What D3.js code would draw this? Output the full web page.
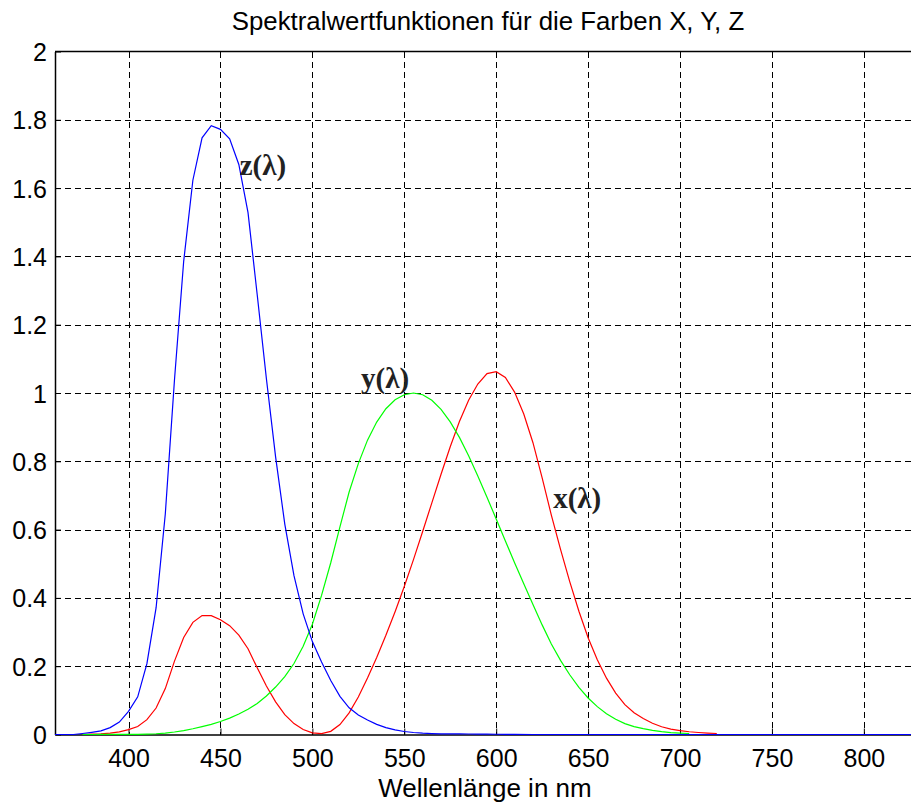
<!DOCTYPE html>
<html>
<head>
<meta charset="utf-8">
<script src="https://cdn.jsdelivr.net/npm/d3@7"></script>
<style>
  body { margin: 0; background: #fff; }
  svg { display: block; }
</style>
</head>
<body>
<div class="chart"></div>
<script>
// data: colour matching functions
const wavelengthsX = [375, 380, 385, 390, 395, 400, 405, 410, 415, 420, 425, 430, 435, 440, 445, 450, 455, 460, 465, 470, 475, 480, 485, 490, 495, 500, 505, 510, 515, 520, 525, 530, 535, 540, 545, 550, 555, 560, 565, 570, 575, 580, 585, 590, 595, 600, 605, 610, 615, 620, 625, 630, 635, 640, 645, 650, 655, 660, 665, 670, 675, 680, 685, 690, 695, 700, 705, 710, 715, 720];
const xValues = [0, 0.0014, 0.0022, 0.0042, 0.0077, 0.0143, 0.0232, 0.0435, 0.0776, 0.1344, 0.2148, 0.2839, 0.3285, 0.3483, 0.3481, 0.3362, 0.3187, 0.2908, 0.2511, 0.1954, 0.1421, 0.0956, 0.058, 0.032, 0.0147, 0.0049, 0.0024, 0.0093, 0.0291, 0.0633, 0.1096, 0.1655, 0.2257, 0.2904, 0.3597, 0.4334, 0.5121, 0.5945, 0.6784, 0.7621, 0.8425, 0.9163, 0.9786, 1.0263, 1.0567, 1.0622, 1.0456, 1.0026, 0.9384, 0.8544, 0.7514, 0.6424, 0.5419, 0.4479, 0.3608, 0.2835, 0.2187, 0.1649, 0.1212, 0.0874, 0.0636, 0.0468, 0.0329, 0.0227, 0.0158, 0.0114, 0.0081, 0.0058, 0.0041, 0.0029];

const wavelengthsY = [375, 380, 385, 390, 395, 400, 405, 410, 415, 420, 425, 430, 435, 440, 445, 450, 455, 460, 465, 470, 475, 480, 485, 490, 495, 500, 505, 510, 515, 520, 525, 530, 535, 540, 545, 550, 555, 560, 565, 570, 575, 580, 585, 590, 595, 600, 605, 610, 615, 620, 625, 630, 635, 640, 645, 650, 655, 660, 665, 670, 675, 680, 685, 690, 695, 700, 705];
const yValues = [0, 0, 0.0001, 0.0001, 0.0002, 0.0004, 0.0006, 0.0012, 0.0022, 0.004, 0.0073, 0.0116, 0.0168, 0.023, 0.0298, 0.038, 0.048, 0.06, 0.0739, 0.091, 0.1126, 0.139, 0.1693, 0.208, 0.2586, 0.323, 0.4073, 0.503, 0.6082, 0.71, 0.7932, 0.862, 0.9149, 0.954, 0.9803, 0.995, 1.0, 0.995, 0.9786, 0.952, 0.9154, 0.87, 0.8163, 0.757, 0.6949, 0.631, 0.5668, 0.503, 0.4412, 0.381, 0.321, 0.265, 0.217, 0.175, 0.1382, 0.107, 0.0816, 0.061, 0.0446, 0.032, 0.0232, 0.017, 0.0119, 0.0082, 0.0057, 0.0041, 0.0029];

const wavelengthsZ = [360, 365, 370, 375, 380, 385, 390, 395, 400, 405, 410, 415, 420, 425, 430, 435, 440, 445, 450, 455, 460, 465, 470, 475, 480, 485, 490, 495, 500, 505, 510, 515, 520, 525, 530, 535, 540, 545, 550, 555, 560, 565, 570, 575, 580, 585, 590, 595, 600, 605, 610, 620, 650, 700, 750, 800, 830];
const zValues = [0, 0, 0, 0.003, 0.0065, 0.0106, 0.0201, 0.0362, 0.0679, 0.1102, 0.2074, 0.3713, 0.6456, 1.039, 1.3856, 1.623, 1.7471, 1.7826, 1.7721, 1.7441, 1.6692, 1.5281, 1.2876, 1.0419, 0.813, 0.6162, 0.4652, 0.3533, 0.272, 0.2123, 0.1582, 0.1117, 0.0783, 0.0573, 0.0422, 0.0298, 0.0203, 0.0134, 0.0088, 0.0058, 0.0039, 0.0028, 0.0021, 0.0018, 0.0017, 0.0014, 0.0011, 0.001, 0.0008, 0.0006, 0.0003, 0, 0, 0, 0, 0, 0];

const xTicks = [400, 450, 500, 550, 600, 650, 700, 750, 800];
const yTicks = [0, 0.2, 0.4, 0.6, 0.8, 1, 1.2, 1.4, 1.6, 1.8, 2];

// curve labels: text, wavelength and value at the text baseline
const curveLabels = [
  { text: "z(λ)", wl: 460.5, v: 1.638 },
  { text: "y(λ)", wl: 526.5, v: 1.015 },
  { text: "x(λ)", wl: 631, v: 0.663 },
];

// set dimensions of the page and the plot area
const width = 911;
const height = 805;
const plot = { left: 55, top: 51.5, right: 919, bottom: 734.5 };

const svg = d3
  .select(".chart")
  .append("svg")
  .attr("width", width)
  .attr("height", height)
  .style("font-family", "'Liberation Sans', Arial, sans-serif");

const x = d3.scaleLinear().domain([360, 830]).range([plot.left, plot.right]);
const y = d3.scaleLinear().domain([0, 2]).range([plot.bottom, plot.top]);

// grid
const grid = svg.append("g").attr("stroke", "#000").attr("stroke-width", 1).attr("stroke-dasharray", "6,4").attr("shape-rendering", "crispEdges");

grid
  .selectAll("line.v")
  .data(xTicks)
  .enter()
  .append("line")
  .attr("class", "v")
  .attr("x1", (d) => Math.round(x(d)) + 0.5)
  .attr("x2", (d) => Math.round(x(d)) + 0.5)
  .attr("y1", plot.top)
  .attr("y2", plot.bottom);

grid
  .selectAll("line.h")
  .data(yTicks.filter((d) => d > 0 && d < 2))
  .enter()
  .append("line")
  .attr("class", "h")
  .attr("x1", plot.left)
  .attr("x2", plot.right)
  .attr("y1", (d) => Math.round(y(d)) + 0.5)
  .attr("y2", (d) => Math.round(y(d)) + 0.5);

// axes with inward ticks
const xAxis = d3.axisBottom(x).tickValues(xTicks).tickSizeInner(-6).tickSizeOuter(0).tickPadding(15);
const yAxis = d3.axisLeft(y).tickValues(yTicks).tickSizeInner(-6).tickSizeOuter(0).tickPadding(8).tickFormat(d3.format("~g"));

const gx = svg.append("g").attr("transform", "translate(0," + plot.bottom + ")").call(xAxis);
const gy = svg.append("g").attr("transform", "translate(" + plot.left + ",0)").call(yAxis);

[gx, gy].forEach((g) => {
  g.select(".domain").attr("stroke", "#000").attr("stroke-width", 1.5);
  g.selectAll(".tick line").attr("stroke", "#000");
  g.selectAll(".tick text").attr("fill", "#000").style("font-size", "25px").style("font-family", "'Liberation Sans', Arial, sans-serif");
});
gx.selectAll(".tick text").attr("dy", "0.71em");
gy.selectAll(".tick text").attr("dy", "0.36em");

// top border with ticks
svg
  .append("line")
  .attr("x1", plot.left)
  .attr("x2", plot.right)
  .attr("y1", plot.top)
  .attr("y2", plot.top)
  .attr("stroke", "#000")
  .attr("stroke-width", 1.5);

svg
  .append("g")
  .selectAll("line")
  .data(xTicks)
  .enter()
  .append("line")
  .attr("x1", (d) => Math.round(x(d)) + 0.5)
  .attr("x2", (d) => Math.round(x(d)) + 0.5)
  .attr("y1", plot.top)
  .attr("y2", plot.top + 6)
  .attr("stroke", "#000");

// curves
const line = d3
  .line()
  .x((d) => x(d[0]))
  .y((d) => y(d[1]));

const curves = [
  { wl: wavelengthsX, v: xValues, color: "#ff0000" },
  { wl: wavelengthsY, v: yValues, color: "#00ff00" },
  { wl: wavelengthsZ, v: zValues, color: "#0000ff" },
];

svg
  .append("g")
  .selectAll("path")
  .data(curves)
  .enter()
  .append("path")
  .attr("fill", "none")
  .attr("stroke", (d) => d.color)
  .attr("stroke-width", 1.2)
  .attr("d", (d) => line(d.wl.map((w, i) => [w, d.v[i]])));

// curve labels
svg
  .append("g")
  .selectAll("text")
  .data(curveLabels)
  .enter()
  .append("text")
  .attr("x", (d) => x(d.wl))
  .attr("y", (d) => y(d.v))
  .style("font-family", "'Liberation Serif', 'Times New Roman', serif")
  .style("font-weight", "bold")
  .style("font-size", "29px")
  .attr("fill", "#222")
  .text((d) => d.text);

// title and axis label
svg
  .append("text")
  .attr("x", 488)
  .attr("y", 30)
  .attr("text-anchor", "middle")
  .style("font-size", "25.8px")
  .text("Spektralwertfunktionen für die Farben X, Y, Z");

svg
  .append("text")
  .attr("x", 485)
  .attr("y", 797)
  .attr("text-anchor", "middle")
  .style("font-size", "26px")
  .text("Wellenlänge in nm");
</script>
</body>
</html>
